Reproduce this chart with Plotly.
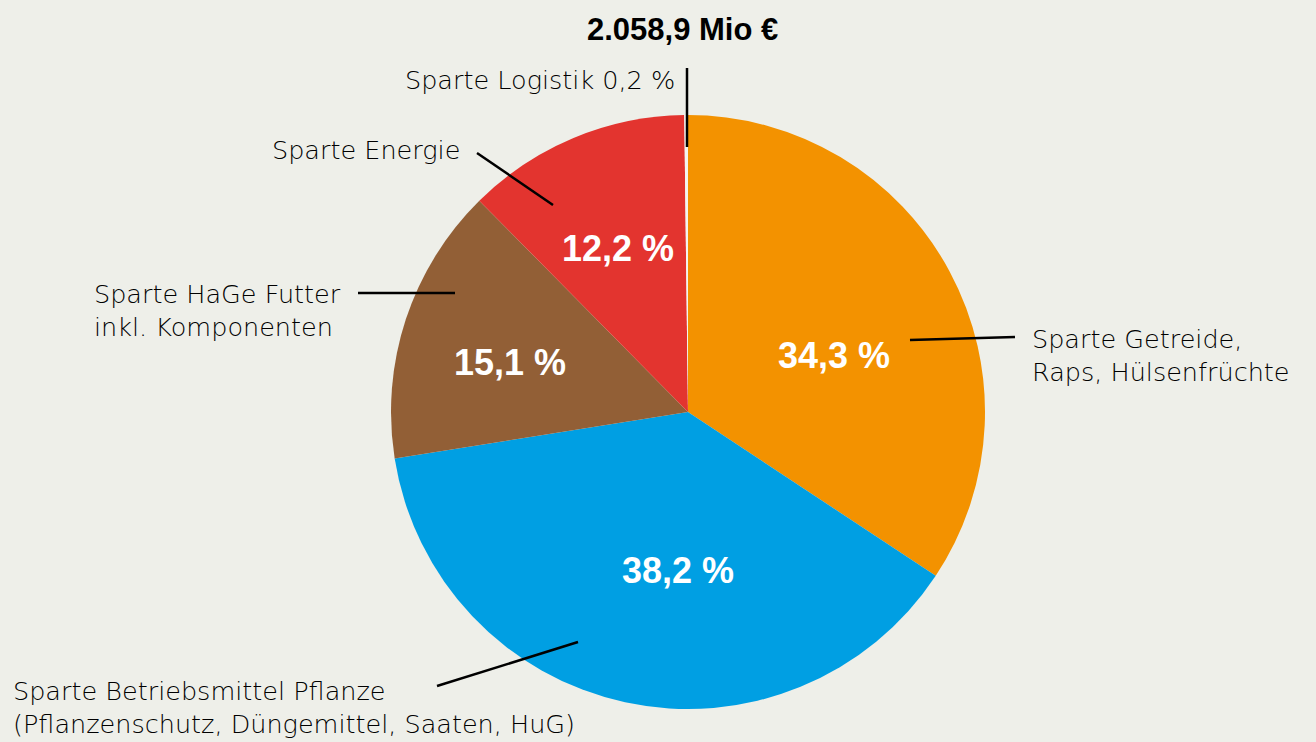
import plotly.graph_objects as go

# ---- data ----
categories = [
    "Sparte Getreide, Raps, Hülsenfrüchte",
    "Sparte Betriebsmittel Pflanze",
    "Sparte HaGe Futter inkl. Komponenten",
    "Sparte Energie",
    "Sparte Logistik",
]
shares = [34.3, 38.2, 15.1, 12.2, 0.2]
total_label = "2.058,9 Mio €"

# ---- styles ----
colors = ["#f39200", "#009fe3", "#925f36", "#e3342f", "#f4f4ef"]
bg = "#eeefe9"
W, H = 1316, 742
FONT = "DejaVu Sans"
BOLD_FONT = "Liberation Sans"

def pct(v):
    return f"{v:.1f}".replace(".", ",") + " %"

# pie placement (pixels)
cx, cy, r = 688, 412, 297

fig = go.Figure()
fig.add_trace(go.Pie(
    labels=categories,
    values=shares,
    sort=False,
    direction="clockwise",
    rotation=0,
    marker=dict(colors=colors, line=dict(width=0)),
    textinfo="none",
    hoverinfo="label+percent",
    showlegend=False,
    domain=dict(x=[(cx - r) / W, (cx + r) / W], y=[1 - (cy + r) / H, 1 - (cy - r) / H]),
))

# invisible pixel axes for annotations / leader lines
fig.update_xaxes(range=[0, W], visible=False, fixedrange=True)
fig.update_yaxes(range=[H, 0], visible=False, fixedrange=True)

# percentage labels in slices (positions chosen as in reference)
pct_pos = [(834, 355), (678, 570), (510, 362), (618, 248)]
for (x, y), v in zip(pct_pos, shares[:4]):
    fig.add_annotation(x=x, y=y, text=f"<b>{pct(v)}</b>", showarrow=False,
                       font=dict(family=BOLD_FONT, size=36, color="white"),
                       xanchor="center", yanchor="middle")

# total
fig.add_annotation(x=682, y=29, text=f"<b>{total_label}</b>", showarrow=False,
                   font=dict(family=BOLD_FONT, size=31, color="black"),
                   xanchor="center", yanchor="middle")

label_font = dict(family=FONT, size=25.5, color="#000000", weight=300)
ext_labels = [
    ("Sparte Logistik " + pct(shares[4]), 677, 80, "right"),
    ("Sparte Energie", 462, 150, "right"),
    ("Sparte HaGe Futter<br>inkl. Komponenten", 92, 310, "left"),
    ("Sparte Getreide,<br>Raps, Hülsenfrüchte", 1030, 355, "left"),
    ("Sparte Betriebsmittel Pflanze<br>(Pflanzenschutz, Düngemittel, Saaten, HuG)", 11, 707, "left"),
]
for text, x, y, anc in ext_labels:
    fig.add_annotation(x=x, y=y, text=text, showarrow=False, font=label_font,
                       xanchor=anc, yanchor="middle", align=anc)

# leader lines
leaders = [
    (687, 68, 687, 147),
    (477, 153, 553, 205),
    (358, 293, 455, 293),
    (910, 340, 1015, 337),
    (437, 686, 578, 642),
]
for x0, y0, x1, y1 in leaders:
    fig.add_shape(type="line", x0=x0, y0=y0, x1=x1, y1=y1, xref="x", yref="y",
                  line=dict(color="black", width=2.5), layer="above")

fig.update_layout(
    width=W, height=H,
    margin=dict(l=0, r=0, t=0, b=0),
    paper_bgcolor=bg, plot_bgcolor="rgba(0,0,0,0)",
)

fig.write_html("out.html")
